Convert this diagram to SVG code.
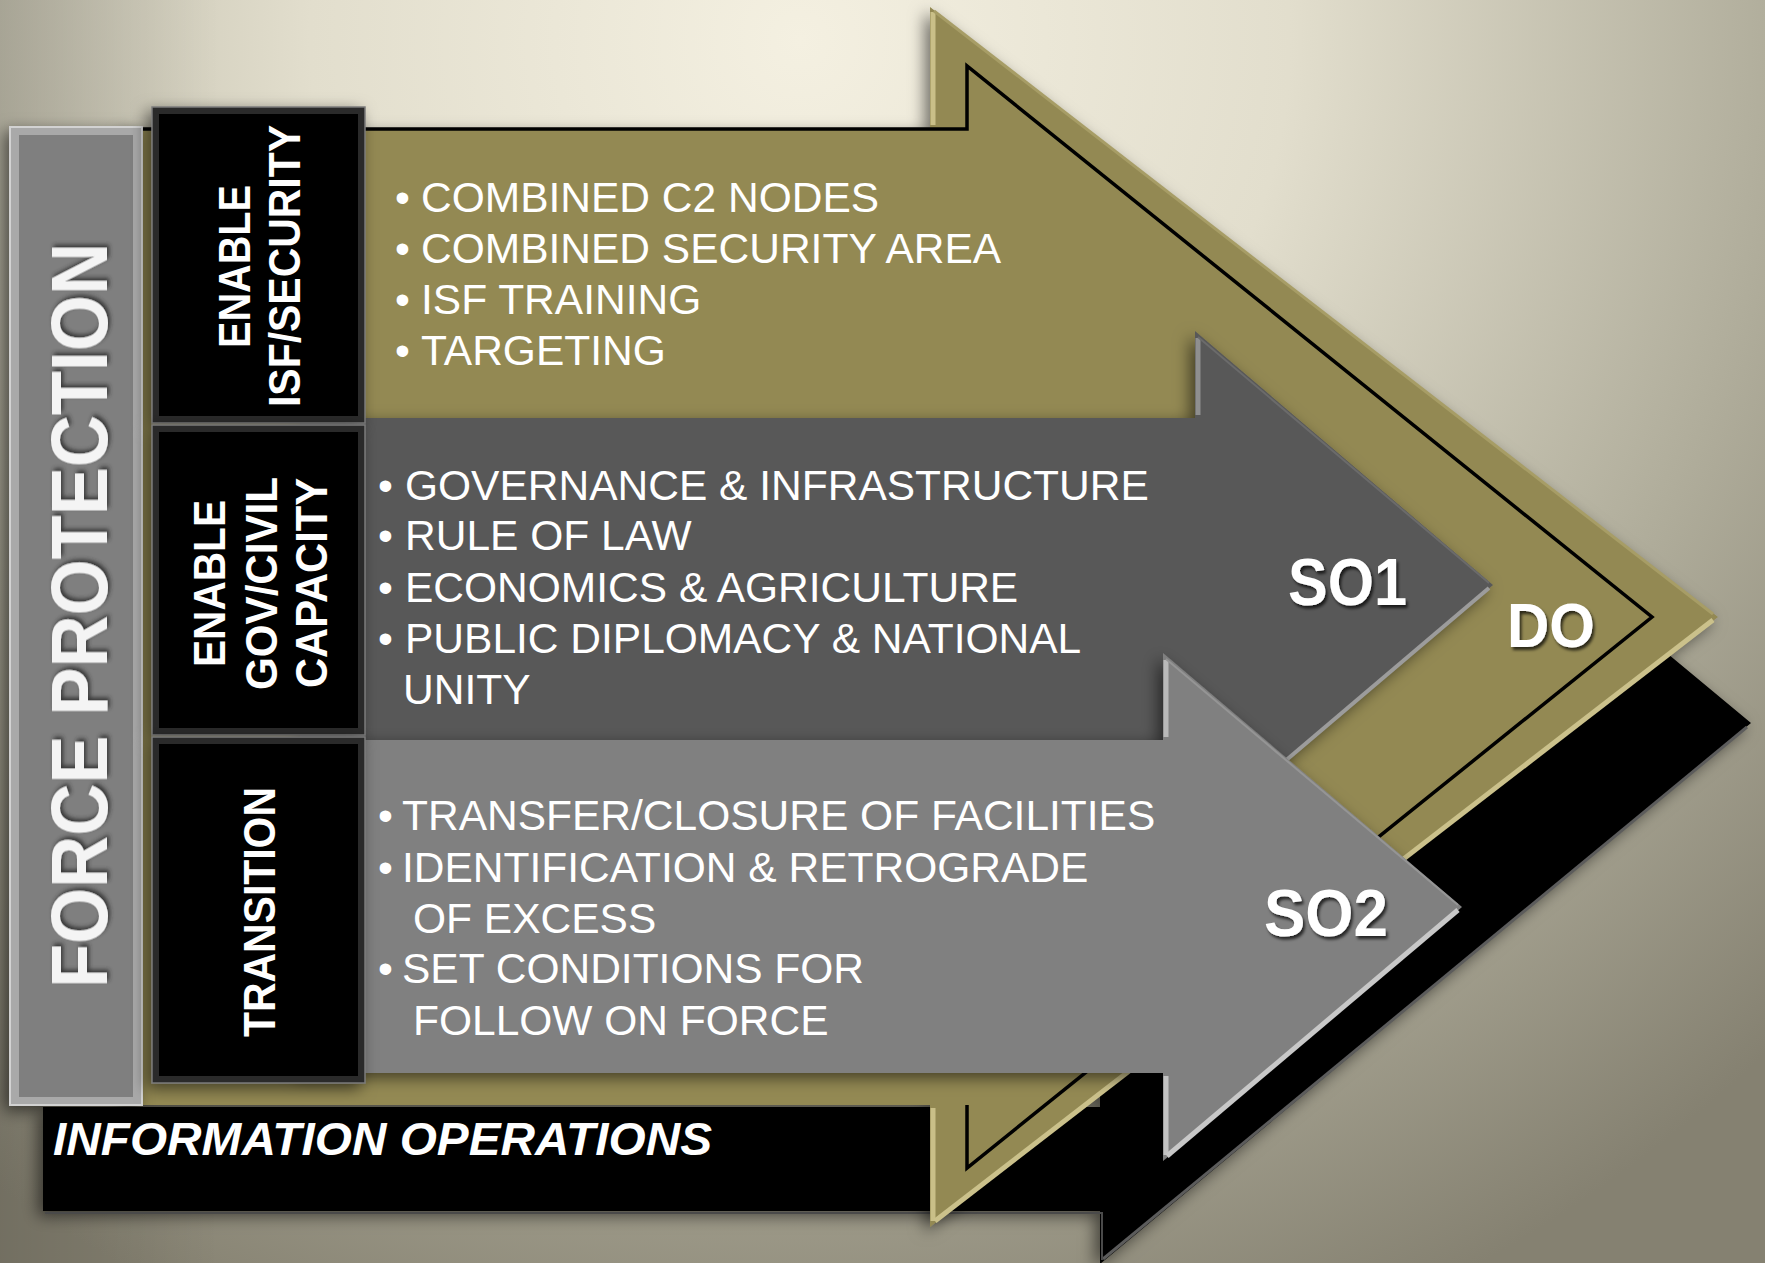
<svg xmlns="http://www.w3.org/2000/svg" width="1765" height="1263" viewBox="0 0 1765 1263">
<defs>
  <radialGradient id="bg" gradientUnits="userSpaceOnUse" cx="800" cy="40" r="1400">
    <stop offset="0" stop-color="#f4f0e1"/>
    <stop offset="0.35" stop-color="#e2decd"/>
    <stop offset="0.7" stop-color="#b0ad9b"/>
    <stop offset="1" stop-color="#858171"/>
  </radialGradient>
  <linearGradient id="leftShade" x1="0" y1="0" x2="1" y2="0">
    <stop offset="0" stop-color="#000" stop-opacity="0.14"/>
    <stop offset="1" stop-color="#000" stop-opacity="0"/>
  </linearGradient>
  <filter id="sh" x="-10%" y="-10%" width="120%" height="120%">
    <feDropShadow dx="-5" dy="5" stdDeviation="8" flood-color="#000" flood-opacity="0.55"/>
  </filter>
  <filter id="ts" x="-10%" y="-20%" width="130%" height="150%">
    <feDropShadow dx="2" dy="3" stdDeviation="1.5" flood-color="#000" flood-opacity="0.7"/>
  </filter>
  <filter id="emb" x="-5%" y="-20%" width="110%" height="140%">
    <feDropShadow dx="3" dy="2" stdDeviation="2" flood-color="#2a2a2a" flood-opacity="0.85"/>
  </filter>
  <style>
    .bul { font-family: "Liberation Sans", Arial, sans-serif; font-size: 42.5px; fill: #ffffff; }
    .lab { font-family: "Liberation Sans", Arial, sans-serif; font-weight: bold; font-size: 44px; fill: #ffffff; text-anchor: middle; }
    .so { font-family: "Liberation Sans", Arial, sans-serif; font-weight: bold; fill: #ffffff; filter: url(#ts); }
    .box { fill: #2c2c2c; stroke: #7a7a7a; stroke-width: 1.5; }
    .boxin { fill: #000000; }
    .hl { fill: none; stroke-linecap: butt; }
  </style>
</defs>

<rect x="0" y="0" width="1765" height="1263" fill="url(#bg)"/>
<rect x="0" y="0" width="220" height="1263" fill="url(#leftShade)"/>

<g id="io-arrow">
  <polygon points="43,1107 1100,1107 1100,182 1751,723 1100,1264 1100,1211 43,1211" fill="#000" filter="url(#sh)"/>
  <polyline class="hl" points="1747,727 1103,1259" stroke="#5c5c5c" stroke-width="3"/>
  <polyline class="hl" points="1102,1260 1102,1213 45,1213" stroke="#4a4a4a" stroke-width="2"/>
  <text x="53" y="1155" font-family="Liberation Sans, Arial, sans-serif" font-weight="bold" font-style="italic" font-size="46" fill="#fff" textLength="659" lengthAdjust="spacingAndGlyphs">INFORMATION OPERATIONS</text>
</g>

<g id="do-arrow">
  <polygon points="125,129 930,129 930,7 1718,617 930,1227 930,1105 125,1105" fill="#938953" filter="url(#sh)"/>
  <polyline class="hl" points="933,125 933,12" stroke="#c9bf88" stroke-width="5"/>
  <polyline class="hl" points="933,1108 933,1221" stroke="#c9bf88" stroke-width="5"/>
  <polyline class="hl" points="1713,620 935,1221" stroke="#cbc18b" stroke-width="5"/>
  <polyline class="hl" points="934,11 1713,614" stroke="#a79d66" stroke-width="3"/>
  <polyline class="hl" points="142,129 967,129 967,66 1652,617 967,1168 967,1105" stroke="#000" stroke-width="3.5" stroke-linejoin="miter"/>
  <text class="so" x="1507" y="647" font-size="63" textLength="88" lengthAdjust="spacingAndGlyphs">DO</text>
</g>

<g id="so1-arrow">
  <polygon points="300,418 1195,418 1195,331 1493,585 1195,839 1195,752 300,752" fill="#595959" filter="url(#sh)"/>
  <polyline class="hl" points="1198,415 1198,338" stroke="#8f8f8f" stroke-width="5"/>
  <polyline class="hl" points="1489,588 1198,835" stroke="#9c9c9c" stroke-width="4"/>
  <polyline class="hl" points="1198,337 1489,583" stroke="#6b6b6b" stroke-width="2"/>
  <text class="so" x="1288" y="605" font-size="67" textLength="119" lengthAdjust="spacingAndGlyphs">SO1</text>
  <text class="bul" y="500"><tspan x="378">•</tspan><tspan x="405">GOVERNANCE &amp; INFRASTRUCTURE</tspan></text>
  <text class="bul" y="550"><tspan x="378">•</tspan><tspan x="405">RULE OF LAW</tspan></text>
  <text class="bul" y="602"><tspan x="378">•</tspan><tspan x="405">ECONOMICS &amp; AGRICULTURE</tspan></text>
  <text class="bul" y="653"><tspan x="378">•</tspan><tspan x="405">PUBLIC DIPLOMACY &amp; NATIONAL</tspan></text>
  <text class="bul" x="403" y="704">UNITY</text>
</g>

<g id="so2-arrow">
  <polygon points="300,740 1163,740 1163,653 1462,907 1163,1161 1163,1073 300,1073" fill="#808080" filter="url(#sh)"/>
  <polyline class="hl" points="1166,737 1166,660" stroke="#b9b9b9" stroke-width="5"/>
  <polyline class="hl" points="1166,1076 1166,1155" stroke="#c2c2c2" stroke-width="5"/>
  <polyline class="hl" points="1458,910 1167,1156" stroke="#c8c8c8" stroke-width="5"/>
  <polyline class="hl" points="1166,659 1458,905" stroke="#959595" stroke-width="2"/>
  <text class="so" x="1264" y="936" font-size="67" textLength="124" lengthAdjust="spacingAndGlyphs">SO2</text>
  <text class="bul" y="830"><tspan x="378">•</tspan><tspan x="402">TRANSFER/CLOSURE OF FACILITIES</tspan></text>
  <text class="bul" y="882"><tspan x="378">•</tspan><tspan x="402">IDENTIFICATION &amp; RETROGRADE</tspan></text>
  <text class="bul" x="413" y="933">OF EXCESS</text>
  <text class="bul" y="983"><tspan x="378">•</tspan><tspan x="402">SET CONDITIONS FOR</tspan></text>
  <text class="bul" x="413" y="1035">FOLLOW ON FORCE</text>
</g>

<g id="isf-text">
  <text class="bul" y="212"><tspan x="395">•</tspan><tspan x="421">COMBINED C2 NODES</tspan></text>
  <text class="bul" y="263"><tspan x="395">•</tspan><tspan x="421">COMBINED SECURITY AREA</tspan></text>
  <text class="bul" y="314"><tspan x="395">•</tspan><tspan x="421">ISF TRAINING</tspan></text>
  <text class="bul" y="365"><tspan x="395">•</tspan><tspan x="421">TARGETING</tspan></text>
</g>

<g id="force-protection">
  <rect x="10" y="127" width="132" height="978" fill="#a9a9a9" stroke="#d2d2d2" stroke-width="2" filter="url(#sh)"/>
  <rect x="19" y="135" width="114" height="962" fill="#7f7f7f"/>
  <text transform="translate(107,615.5) rotate(-90)" text-anchor="middle" font-family="Liberation Sans, Arial, sans-serif" font-weight="bold" font-size="80" fill="#f4f4f4" filter="url(#emb)" textLength="745" lengthAdjust="spacingAndGlyphs">FORCE PROTECTION</text>
</g>

<g id="label-isf">
  <rect class="box" x="152" y="107" width="213" height="316" filter="url(#sh)"/>
  <rect class="boxin" x="159" y="114" width="199" height="302"/>
  <text class="lab" transform="translate(250,266.5) rotate(-90)" textLength="163" lengthAdjust="spacingAndGlyphs">ENABLE</text>
  <text class="lab" transform="translate(300,266) rotate(-90)" textLength="282" lengthAdjust="spacingAndGlyphs">ISF/SECURITY</text>
</g>

<g id="label-gov">
  <rect class="box" x="152" y="425" width="213" height="310" filter="url(#sh)"/>
  <rect class="boxin" x="159" y="432" width="199" height="296"/>
  <text class="lab" transform="translate(225,583.5) rotate(-90)" textLength="167" lengthAdjust="spacingAndGlyphs">ENABLE</text>
  <text class="lab" transform="translate(277,583.5) rotate(-90)" textLength="213" lengthAdjust="spacingAndGlyphs">GOV/CIVIL</text>
  <text class="lab" transform="translate(327,583) rotate(-90)" textLength="210" lengthAdjust="spacingAndGlyphs">CAPACITY</text>
</g>

<g id="label-transition">
  <rect class="box" x="152" y="737" width="213" height="346" filter="url(#sh)"/>
  <rect class="boxin" x="159" y="744" width="199" height="332"/>
  <text class="lab" transform="translate(275,912) rotate(-90)" textLength="250" lengthAdjust="spacingAndGlyphs">TRANSITION</text>
</g>
</svg>
